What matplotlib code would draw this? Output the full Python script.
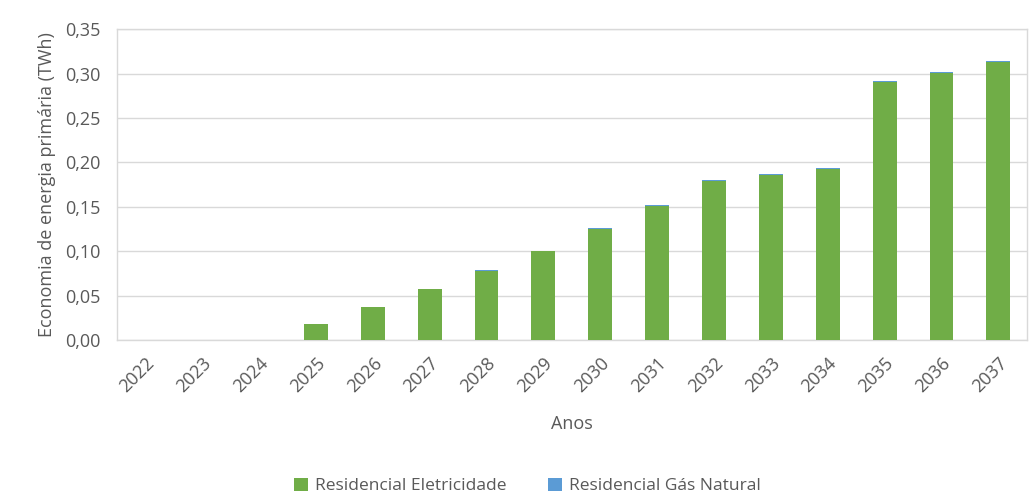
import numpy as np
import matplotlib.pyplot as plt
from matplotlib.ticker import FuncFormatter

anos = ['2022', '2023', '2024', '2025', '2026', '2027', '2028', '2029',
        '2030', '2031', '2032', '2033', '2034', '2035', '2036', '2037']
eletricidade = [0.0, 0.0, 0.0, 0.018, 0.037, 0.057, 0.078, 0.100,
                0.125, 0.151, 0.179, 0.186, 0.193, 0.290, 0.301, 0.313]
gas_natural = [0.0, 0.0, 0.0, 0.0004, 0.0005, 0.0006, 0.0007, 0.0008,
               0.0009, 0.0009, 0.0010, 0.0010, 0.0010, 0.0012, 0.0012, 0.0013]

plt.rcParams['font.family'] = ['Open Sans', 'DejaVu Sans']
txt = '#595959'
grid = '#d9d9d9'

fig = plt.figure(figsize=(10.34, 4.95), dpi=100)
ax = fig.add_axes([0.113, 0.313, 0.88, 0.628])

x = np.arange(len(anos))
w = 0.42
ax.bar(x, eletricidade, w, color='#70ad47', label='Residencial Eletricidade', zorder=3)
ax.bar(x, gas_natural, w, bottom=eletricidade, color='#5b9bd5',
       label='Residencial Gás Natural', zorder=3)

ax.set_xlim(-0.5, len(anos) - 0.5)
ax.set_ylim(0, 0.35)
ax.set_yticks(np.arange(0, 0.351, 0.05))
ax.yaxis.set_major_formatter(FuncFormatter(lambda v, p: ('%.2f' % v).replace('.', ',')))
ax.set_xticks(x)
ax.set_xticklabels(anos, rotation=45, ha='right', rotation_mode='anchor')
ax.tick_params(axis='both', length=0, colors=txt, labelsize=13)
ax.tick_params(axis='x', pad=10)
ax.tick_params(axis='y', pad=12)

ax.grid(axis='y', color=grid, lw=1, zorder=0)
for s in ax.spines.values():
    s.set_color(grid)
    s.set_linewidth(1)

ax.set_xlabel('Anos', color=txt, fontsize=13, labelpad=14)
ax.set_ylabel('Economia de energia primária (TWh)', color=txt, fontsize=13, labelpad=6)

leg = fig.legend(loc='lower center', bbox_to_anchor=(0.51, -0.03), ncol=2, frameon=False,
                 fontsize=12.5, handlelength=0.8, handleheight=0.8, handletextpad=0.4,
                 columnspacing=2.4)
for t in leg.get_texts():
    t.set_color(txt)

fig.savefig('out.png', dpi=100)
